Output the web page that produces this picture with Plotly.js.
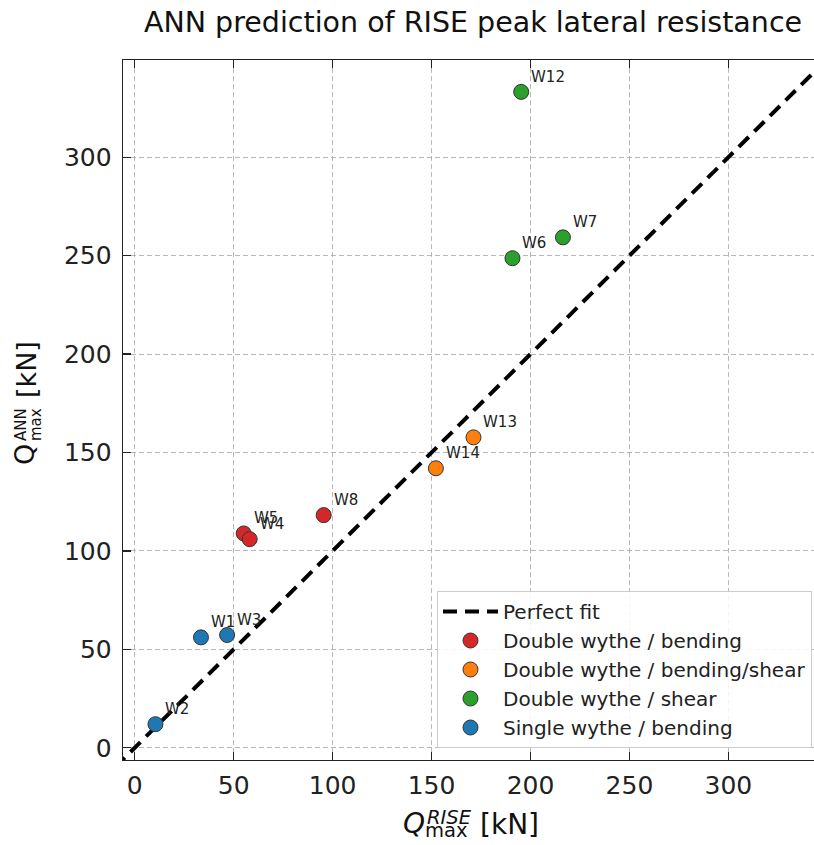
<!DOCTYPE html>
<html>
<head>
<meta charset="utf-8">
<script src="https://cdn.plot.ly/plotly-3.0.1.min.js"></script>
<style>
html,body{margin:0;padding:0;overflow:hidden;background:#fff;}
#chart{width:823px;height:845px;}
</style>
</head>
<body>
<div id="chart"></div>
<script>
// ---- data ----
const labels_bend   = ["W5", "W4", "W8"];
const rise_bend     = [55.1, 58.1, 95.5];
const ann_bend      = [108.9, 106.0, 118.2];

const labels_bs     = ["W14", "W13"];
const rise_bs       = [152.2, 171.2];
const ann_bs        = [142.0, 157.7];

const labels_shear  = ["W6", "W7", "W12"];
const rise_shear    = [190.9, 216.4, 195.3];
const ann_shear     = [248.7, 259.3, 333.2];

const labels_single = ["W1", "W3", "W2"];
const rise_single   = [33.5, 46.7, 10.5];
const ann_single    = [56.1, 57.3, 12.0];

const fitLine = [-10, 360];
const tickVals = [0, 50, 100, 150, 200, 250, 300];

const groups = [
  {name: "Double wythe / bending",       x: rise_bend,   y: ann_bend,   t: labels_bend,   c: "#d62728"},
  {name: "Double wythe / bending/shear", x: rise_bs,     y: ann_bs,     t: labels_bs,     c: "#ff7f0e"},
  {name: "Double wythe / shear",         x: rise_shear,  y: ann_shear,  t: labels_shear,  c: "#2ca02c"},
  {name: "Single wythe / bending",       x: rise_single, y: ann_single, t: labels_single, c: "#1f77b4"}
];

const FONT = "DejaVu Sans, Verdana, sans-serif";

const traces = [{
  x: fitLine, y: fitLine, mode: "lines", name: "Perfect fit",
  line: {color: "#000", width: 4, dash: "14px,8px"},
  legendgroup: "g0", hoverinfo: "skip"
}];
groups.forEach((g, i) => {
  traces.push({
    x: g.x, y: g.y, mode: "markers", type: "scatter", name: g.name,
    legendgroup: "g" + (i + 1),
    marker: {size: 15, color: g.c, line: {color: "#333", width: 1}}
  });
});

const annotations = [];
groups.forEach(g => {
  g.t.forEach((lab, j) => {
    annotations.push({
      x: g.x[j], y: g.y[j], xref: "x", yref: "y", text: lab, showarrow: false,
      xanchor: "left", yanchor: "bottom", xshift: 8, yshift: 4,
      font: {family: FONT, size: 15, color: "#222"}
    });
  });
});

// axis title pieces (paper coords, plot area 700x700 starting at 123,60)
function px(p){ return (p - 123) / 700; }
function py(p){ return (760 - p) / 700; }
const tf = (s) => ({family: FONT, size: s, color: "#111"});
annotations.push(
  {xref:"paper", yref:"paper", x: px(401), y: py(823), text: "<i>Q</i>", showarrow:false, xanchor:"left", yanchor:"middle", font: tf(28)},
  {xref:"paper", yref:"paper", x: px(425), y: py(817), text: "<i>RISE</i>", showarrow:false, xanchor:"left", yanchor:"middle", font: tf(19.5)},
  {xref:"paper", yref:"paper", x: px(423), y: py(830), text: "max", showarrow:false, xanchor:"left", yanchor:"middle", font: tf(19.5)},
  {xref:"paper", yref:"paper", x: px(478), y: py(824), text: "[kN]", showarrow:false, xanchor:"left", yanchor:"middle", font: tf(28)},

  {xref:"paper", yref:"paper", x: px(24), y: py(455), text: "Q", showarrow:false, xanchor:"center", yanchor:"middle", textangle:-90, font: tf(27)},
  {xref:"paper", yref:"paper", x: px(21), y: py(425), text: "ANN", showarrow:false, xanchor:"center", yanchor:"middle", textangle:-90, font: tf(15)},
  {xref:"paper", yref:"paper", x: px(36), y: py(425), text: "max", showarrow:false, xanchor:"center", yanchor:"middle", textangle:-90, font: tf(15)},
  {xref:"paper", yref:"paper", x: px(26), y: py(370), text: "[kN]", showarrow:false, xanchor:"center", yanchor:"middle", textangle:-90, font: tf(27)}
);

const axisCommon = {
  showline: true, linecolor: "#222", linewidth: 1.3, mirror: "ticks",
  ticks: "inside", ticklen: 8, tickwidth: 1.3, tickcolor: "#222",
  tickvals: tickVals, ticktext: tickVals.map(String),
  tickfont: {family: FONT, size: 25, color: "#222"},
  showgrid: true, gridcolor: "rgba(160,160,160,0.75)", gridwidth: 1, griddash: "5px,3px",
  zeroline: false
};

const layout = {
  width: 823, height: 845,
  margin: {l: 123, r: 0, t: 60, b: 85},
  paper_bgcolor: "#fff", plot_bgcolor: "#fff",
  font: {family: FONT, color: "#222"},
  title: {text: "ANN prediction of RISE peak lateral resistance", x: 0.5, xref: "paper",
          y: 1 - 22/845, yref: "container", yanchor: "middle",
          font: {family: FONT, size: 28.5, color: "#111"}},
  xaxis: Object.assign({}, axisCommon, {range: [-5.9, 347.8], ticklabelstandoff: 3}),
  yaxis: Object.assign({}, axisCommon, {range: [-6.2, 349.4], ticklabelstandoff: 5}),
  legend: {x: (812 - 123)/700, xanchor: "right", y: (760 - 748)/700, yanchor: "bottom",
           bgcolor: "rgba(255,255,255,0.85)", bordercolor: "#ccc", borderwidth: 1,
           font: {family: FONT, size: 20, color: "#222"},
           traceorder: "grouped", tracegroupgap: 0, itemwidth: 55},
  showlegend: true,
  annotations: annotations
};

Plotly.newPlot("chart", traces, layout, {displayModeBar: false, staticPlot: true});
</script>
</body>
</html>
